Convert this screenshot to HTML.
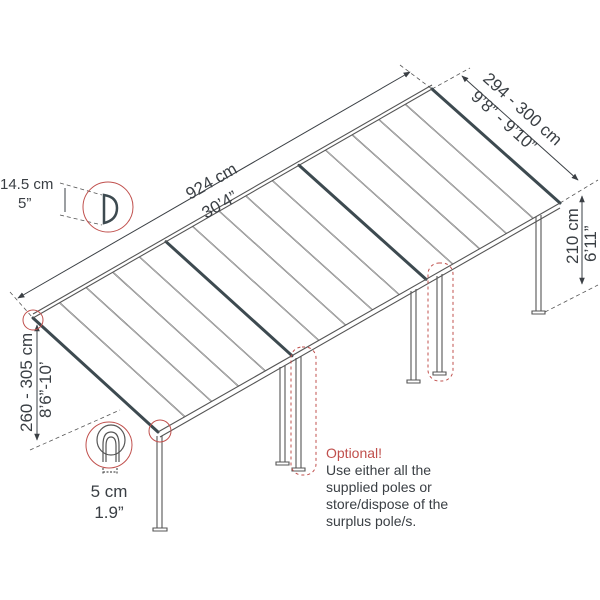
<!DOCTYPE html>
<html><head><style>html,body{margin:0;padding:0;background:#fff;width:600px;height:600px;overflow:hidden}
text{font-family:"Liberation Sans",sans-serif;fill:#3a3f44}</style></head><body>
<svg width="600" height="600" viewBox="0 0 600 600" xmlns="http://www.w3.org/2000/svg">
<defs><marker id="a" viewBox="0 0 10 10" refX="9" refY="5" markerWidth="7" markerHeight="7" orient="auto-start-reverse"><path d="M0,1 L10,5 L0,9 z" fill="#3a3f44"/></marker></defs>
<g stroke="#555" stroke-width="0.8" stroke-dasharray="4,3" fill="none">
<line x1="10" y1="292" x2="33" y2="318"/><line x1="400" y1="65" x2="432" y2="89"/>
<line x1="432" y1="89" x2="470" y2="68"/><line x1="560" y1="203" x2="598" y2="180"/>
<line x1="545" y1="312" x2="598" y2="285"/>
<line x1="60" y1="183" x2="102" y2="195"/><line x1="60" y1="215" x2="102" y2="225"/>
<line x1="30" y1="450" x2="120" y2="410"/>
</g>
<g stroke="#3a3f44" stroke-width="1" fill="none">
<line x1="18" y1="298" x2="410" y2="72" marker-start="url(#a)" marker-end="url(#a)"/>
<line x1="462" y1="76" x2="578" y2="180" marker-start="url(#a)" marker-end="url(#a)"/>
<line x1="582" y1="196" x2="582" y2="284" marker-start="url(#a)" marker-end="url(#a)"/>
<line x1="37" y1="325" x2="37" y2="440" marker-start="url(#a)" marker-end="url(#a)"/>
<line x1="65" y1="188" x2="65" y2="212"/>
</g>
<g stroke="#666" stroke-width="1.4" fill="none">
<line x1="59.6" y1="302.7" x2="184.8" y2="416.7"/><line x1="86.2" y1="287.5" x2="211.6" y2="401.5"/>
<line x1="112.8" y1="272.2" x2="238.4" y2="386.2"/><line x1="139.4" y1="256.9" x2="265.2" y2="370.9"/>
<line x1="192.6" y1="226.4" x2="318.8" y2="340.4"/><line x1="219.2" y1="211.1" x2="345.6" y2="325.1"/>
<line x1="245.8" y1="195.9" x2="372.4" y2="309.9"/><line x1="272.4" y1="180.6" x2="399.2" y2="294.6"/>
<line x1="325.6" y1="150.1" x2="452.8" y2="264.1"/><line x1="352.2" y1="134.8" x2="479.6" y2="248.8"/>
<line x1="378.8" y1="119.5" x2="506.4" y2="233.5"/><line x1="405.4" y1="104.3" x2="533.2" y2="218.3"/>
</g>
<g stroke="#fff" stroke-width="0.5" fill="none">
<line x1="59.6" y1="302.7" x2="184.8" y2="416.7"/><line x1="86.2" y1="287.5" x2="211.6" y2="401.5"/>
<line x1="112.8" y1="272.2" x2="238.4" y2="386.2"/><line x1="139.4" y1="256.9" x2="265.2" y2="370.9"/>
<line x1="192.6" y1="226.4" x2="318.8" y2="340.4"/><line x1="219.2" y1="211.1" x2="345.6" y2="325.1"/>
<line x1="245.8" y1="195.9" x2="372.4" y2="309.9"/><line x1="272.4" y1="180.6" x2="399.2" y2="294.6"/>
<line x1="325.6" y1="150.1" x2="452.8" y2="264.1"/><line x1="352.2" y1="134.8" x2="479.6" y2="248.8"/>
<line x1="378.8" y1="119.5" x2="506.4" y2="233.5"/><line x1="405.4" y1="104.3" x2="533.2" y2="218.3"/>
</g>
<g stroke="#3d4a50" stroke-width="3" fill="none" stroke-linecap="round">
<line x1="33" y1="318" x2="158" y2="432"/><line x1="166" y1="241.7" x2="292" y2="355.7"/>
<line x1="299" y1="165.3" x2="426" y2="279.3"/><line x1="432" y1="89" x2="560" y2="203"/>
</g>
<g stroke="#555" stroke-width="1.1" fill="none">
<line x1="33" y1="318" x2="432" y2="89"/><line x1="33" y1="314" x2="432" y2="85"/>
<line x1="158" y1="432" x2="560" y2="203"/><line x1="160" y1="437" x2="560" y2="208"/>
<path d="M157,436 V528 M162,436 V528 M153,528 h14 v3 h-14z"/>
<path d="M280,367 V462 M285,365 V462 M276,462 h13 v3 h-13z"/>
<path d="M296,358 V468 M301,356 V468 M292,468 h13 v3 h-13z"/>
<path d="M411,291 V380 M416,289 V380 M407,380 h13 v3 h-13z"/>
<path d="M437,276 V372 M442,274 V372 M433,372 h13 v3 h-13z"/>
<path d="M536,217 V311 M541,215 V311 M532,311 h13 v3 h-13z"/>
</g>
<g stroke="#c0504d" stroke-width="1" fill="none">
<rect x="291" y="347" width="25" height="128" rx="11" stroke-dasharray="3,3"/>
<rect x="428" y="263" width="25" height="118" rx="11" stroke-dasharray="3,3"/>
<circle cx="108" cy="207" r="25"/><circle cx="109" cy="445" r="23"/>
<circle cx="33" cy="320" r="10"/><circle cx="160" cy="431" r="11"/>
</g>
<path d="M104,195 Q117,197 117,208 Q117,220 104,223 Z" fill="none" stroke="#3d4a50" stroke-width="2.5"/>
<g fill="none" stroke="#555" stroke-width="1.2">
<ellipse cx="111" cy="440" rx="14" ry="15"/>
<path d="M103,462 V445 Q103,432 111,432 Q119,432 119,445 V462"/>
<path d="M106,462 V446 Q106,437 111,437 Q116,437 116,446 V462"/>
<path d="M103,468 V475 M117,468 V475 M103,472 H117" stroke-dasharray="2,1.5"/>
</g>
<g font-size="17">
<text transform="translate(190,200) rotate(-30)">924 cm</text>
<text transform="translate(206,219) rotate(-30)">30’4”</text>
<text transform="translate(482,80) rotate(42)">294 - 300 cm</text>
<text transform="translate(470,98) rotate(42)">9’8” - 9’10”</text>
<text transform="translate(578,264) rotate(-90)">210 cm</text>
<text transform="translate(596,262) rotate(-90)">6’11”</text>
<text transform="translate(32,432) rotate(-90)">260 - 305 cm</text>
<text transform="translate(51,418) rotate(-90)">8’6”-10’</text>
<text x="0" y="189" font-size="15">14.5 cm</text>
<text x="18" y="208" font-size="15">5”</text>
<text x="109" y="497" text-anchor="middle">5 cm</text>
<text x="109" y="518" text-anchor="middle">1.9”</text>
</g>
<g font-size="14">
<text x="326" y="458" style="fill:#c0504d">Optional!</text>
<text x="326" y="475">Use either all the</text>
<text x="326" y="492">supplied poles or</text>
<text x="326" y="509">store/dispose of the</text>
<text x="326" y="526">surplus pole/s.</text>
</g>
</svg>
</body></html>
